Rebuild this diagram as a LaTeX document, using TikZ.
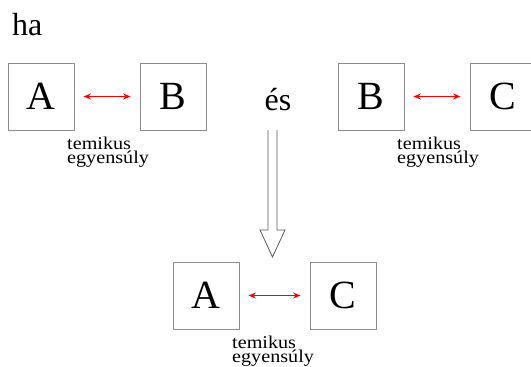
\documentclass[tikz,border=0pt]{standalone}
\usepackage{fontspec}
\setmainfont{Liberation Serif}
\newfontfamily\bigfont{Liberation Serif}
\newfontfamily\labelfont{Liberation Serif}[FakeStretch=1.12]
\usetikzlibrary{arrows.meta}
\begin{document}
\begin{tikzpicture}[x=1pt,y=-1pt,
  box/.style={draw=black!45,line width=0.8pt,minimum width=66pt,minimum height=67pt,inner sep=0pt,font=\bigfont\fontsize{40}{40}\selectfont},
  eq/.style={red,line width=1.3pt,{Stealth[length=7.5pt,width=6pt]}-{Stealth[length=7.5pt,width=6pt]},shorten <=9pt,shorten >=9pt},
  lbl/.style={anchor=north west,inner sep=0pt,align=left,font=\labelfont\fontsize{18}{14}\selectfont},
  big/.style={font=\bigfont\fontsize{32}{32}\selectfont,inner sep=0pt}]
\useasboundingbox (0,0) rectangle (531,367);
\node[big,anchor=base west] (ha) at (12,35) {ha};
\node[box] (a1) at (41,96.5) {A};
\node[box] (b1) at (173,96.5) {B};
\node[box] (b2) at (371,96.5) {B};
\node[box] (c1) at (503,96.5) {C};
\node[box] (a2) at (206,295.5) {A};
\node[box] (c2) at (343,295.5) {C};
\node[big,anchor=base] (es) at (278,110) {és};
\draw[eq] (a1) -- (b1);
\draw[eq] (b2) -- (c1);
\draw[eq] (a2) -- (c2);
\node[lbl] (l1) at (67,137) {temikus\\egyensúly};
\node[lbl] (l2) at (397,137) {temikus\\egyensúly};
\node[lbl] (l3) at (232,336) {temikus\\egyensúly};
\coordinate (top) at (272.5,130);
\coordinate (tip) at (272.5,257);
\draw[black!65,line width=0.8pt,fill=white,line join=miter]
  ([xshift=-4.5pt]top) -- ++(0,100) -- ++(-8,0) -- (tip) -- ++(12.5,-27) -- ++(-8,0) -- ([xshift=4.5pt]top);
\end{tikzpicture}
\end{document}
